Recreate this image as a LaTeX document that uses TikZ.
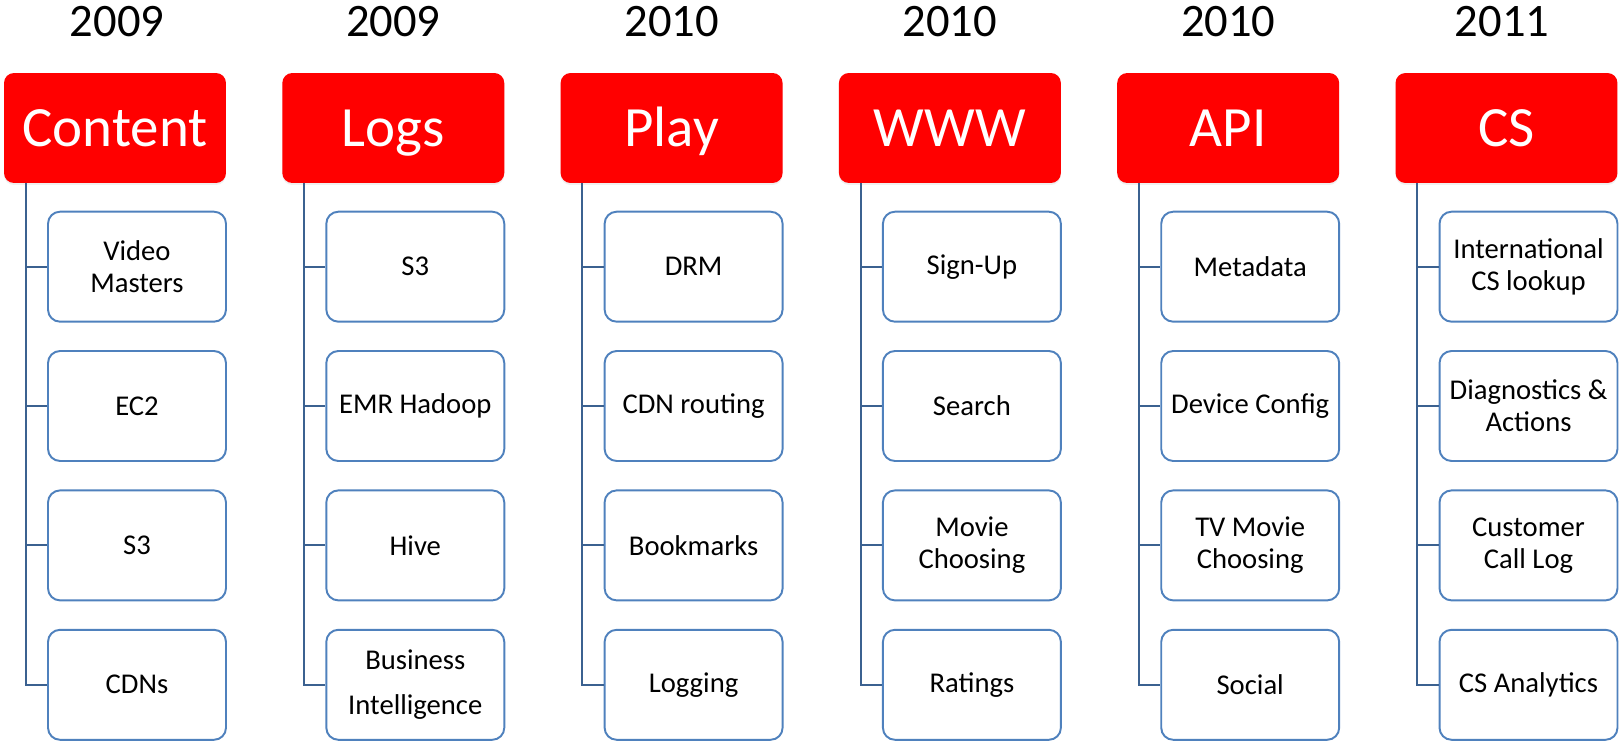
\documentclass[tikz,border=0pt]{standalone}
\usepackage{fontspec}
\setmainfont{Carlito}
\usetikzlibrary{shadows}

\definecolor{hdred}{HTML}{FF0000}
\definecolor{boxblue}{HTML}{4F81BD}
\definecolor{linkblue}{HTML}{3B6190}

\begin{document}
\begin{tikzpicture}[
		x=0.02cm, y=-0.02cm,
		every node/.style={inner sep=0pt},
		year/.style={font=\fontsize{26.5}{32}\selectfont},
		group/.style={rectangle, rounded corners=0.2cm, fill=hdred, text=white,
			minimum width=4.44cm, minimum height=2.2cm,
			font=\fontsize{32.4}{39}\selectfont, text height=20.9pt, text depth=0pt,
			drop shadow={opacity=0.12, shadow xshift=0cm, shadow yshift=-0.04cm}},
		item/.style={rectangle, rounded corners=0.24cm, draw=boxblue, line width=1.1pt,
			fill=white, minimum width=3.56cm, minimum height=2.2cm, align=center,
			font=\fontsize{16.3}{18.2}\selectfont},
		link/.style={draw=linkblue, line width=1.2pt}
	]
  \useasboundingbox (0,0) rectangle (1619,742);

  % years
  \node (y_content) [year] at (117, 21.7) {2009};
  \node (y_logs) [year] at (393.3, 21.7) {2009};
  \node (y_play) [year] at (671.6, 21.7) {2010};
  \node (y_www) [year] at (949.9, 21.7) {2010};
  \node (y_api) [year] at (1228.2, 21.7) {2010};
  \node (y_cs) [year] at (1502, 21.7) {2011};

  % red headers
  \node (content) [group] at (115, 128) {Content};
  \node (logs) [group] at (393.3, 128) {Logs};
  \node (play) [group] at (671.6, 128) {Play};
  \node (www) [group] at (949.9, 128) {WWW};
  \node (api) [group] at (1228.2, 128) {API};
  \node (cs) [group] at (1506.5, 128) {CS};

  \node (content_1) [item] at (137, 266.7) {Video\\Masters};
  \node (content_2) [item] at (137, 406) {EC2};
  \node (content_3) [item] at (137, 545.4) {S3};
  \node (content_4) [item] at (137, 684.8) {CDNs};

  \node (logs_1) [item] at (415.3, 266.7) {S3};
  \node (logs_2) [item] at (415.3, 406) {EMR Hadoop};
  \node (logs_3) [item] at (415.3, 545.4) {Hive};
  \node (logs_4) [item] at (415.3, 684.8) {Business\\[7.5pt]Intelligence};

  \node (play_1) [item] at (693.6, 266.7) {DRM};
  \node (play_2) [item] at (693.6, 406) {CDN routing};
  \node (play_3) [item] at (693.6, 545.4) {Bookmarks};
  \node (play_4) [item] at (693.6, 684.8) {Logging};

  \node (www_1) [item] at (971.9, 266.7) {Sign-Up};
  \node (www_2) [item] at (971.9, 406) {Search};
  \node (www_3) [item] at (971.9, 545.4) {Movie\\Choosing};
  \node (www_4) [item] at (971.9, 684.8) {Ratings};

  \node (api_1) [item] at (1250.2, 266.7) {Metadata};
  \node (api_2) [item] at (1250.2, 406) {Device Config};
  \node (api_3) [item] at (1250.2, 545.4) {TV Movie\\Choosing};
  \node (api_4) [item] at (1250.2, 684.8) {Social};

  \node (cs_1) [item] at (1528.5, 266.7) {International\\CS lookup};
  \node (cs_2) [item] at (1528.5, 406) {Diagnostics \&\\Actions};
  \node (cs_3) [item] at (1528.5, 545.4) {Customer\\Call Log};
  \node (cs_4) [item] at (1528.5, 684.8) {CS Analytics};

  % elbow connectors
  \foreach \g in {content, logs, play, www, api, cs}
    \foreach \i in {1,...,4}
      \draw[link] ([xshift=0.44cm]\g.south west) |- (\g_\i.west);
\end{tikzpicture}
\end{document}
